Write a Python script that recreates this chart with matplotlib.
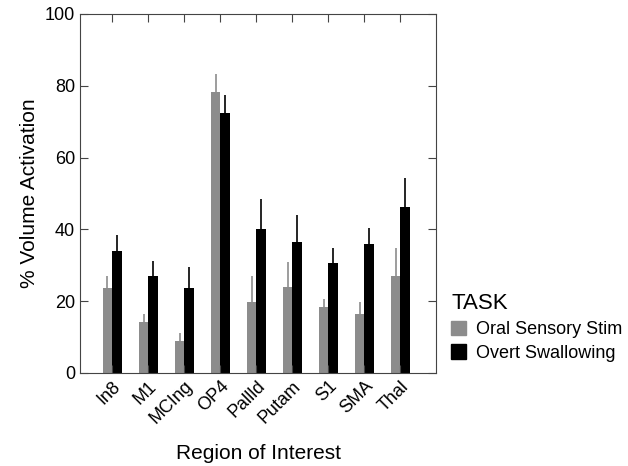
import matplotlib
matplotlib.use('Agg')
import matplotlib.pyplot as plt
from matplotlib.patches import Patch
import numpy as np

plt.rcParams['font.family'] = ['Liberation Sans', 'DejaVu Sans']

regions = ['In8', 'M1', 'MCIng', 'OP4', 'Pallld', 'Putam', 'S1', 'SMA', 'Thal']
oral_mean = [23.7, 14.1, 8.8, 78.3, 19.6, 23.9, 18.4, 16.3, 27.1]
oral_err = [3.4, 2.2, 2.3, 4.9, 7.3, 6.9, 2.2, 3.5, 7.7]
swallow_mean = [33.9, 27.1, 23.7, 72.3, 40.0, 36.4, 30.5, 35.8, 46.3]
swallow_err = [4.6, 4.1, 5.8, 5.0, 8.4, 7.7, 4.3, 4.6, 7.9]

gray = '#8c8c8c'
black = '#000000'

fig = plt.figure(figsize=(6.28, 4.66), dpi=100)
ax = fig.add_axes([0.127, 0.2, 0.568, 0.77])

x = np.arange(len(regions))
w = 0.26
ax.bar(x - w / 2, oral_mean, w, color=gray, linewidth=0)
ax.bar(x + w / 2, swallow_mean, w, color=black, linewidth=0)
# one-sided (upward) error bars, no caps
ax.errorbar(x - w / 2, oral_mean, yerr=[np.zeros(len(x)), oral_err],
            fmt='none', ecolor=gray, elinewidth=1.2, capsize=0)
ax.errorbar(x + w / 2, swallow_mean, yerr=[np.zeros(len(x)), swallow_err],
            fmt='none', ecolor=black, elinewidth=1.2, capsize=0)

ax.set_xlim(-0.9, 9.0)
ax.set_ylim(0, 100)
ax.set_yticks([0, 20, 40, 60, 80, 100])
ax.set_xticks(x)
ax.set_xticklabels(regions, rotation=45, ha='right', rotation_mode='anchor', fontsize=13)
ax.tick_params(axis='y', labelsize=13)
ax.tick_params(direction='in', top=True, right=True, length=6, color='#444444')
for s in ax.spines.values():
    s.set_color('#444444')
ax.set_ylabel('% Volume Activation', fontsize=15)
ax.set_xlabel('Region of Interest', fontsize=15, labelpad=12)

handles = [Patch(color=gray, label='Oral Sensory Stim'),
           Patch(color=black, label='Overt Swallowing')]
leg = fig.legend(handles=handles, title='TASK', loc='upper left',
                 bbox_to_anchor=(0.704, 0.39), frameon=False, fontsize=13,
                 title_fontsize=16, handlelength=0.85, handleheight=0.85,
                 handletextpad=0.5, labelspacing=0.35, borderpad=0)
leg._legend_box.align = 'left'

fig.savefig('out.png', dpi=100)
